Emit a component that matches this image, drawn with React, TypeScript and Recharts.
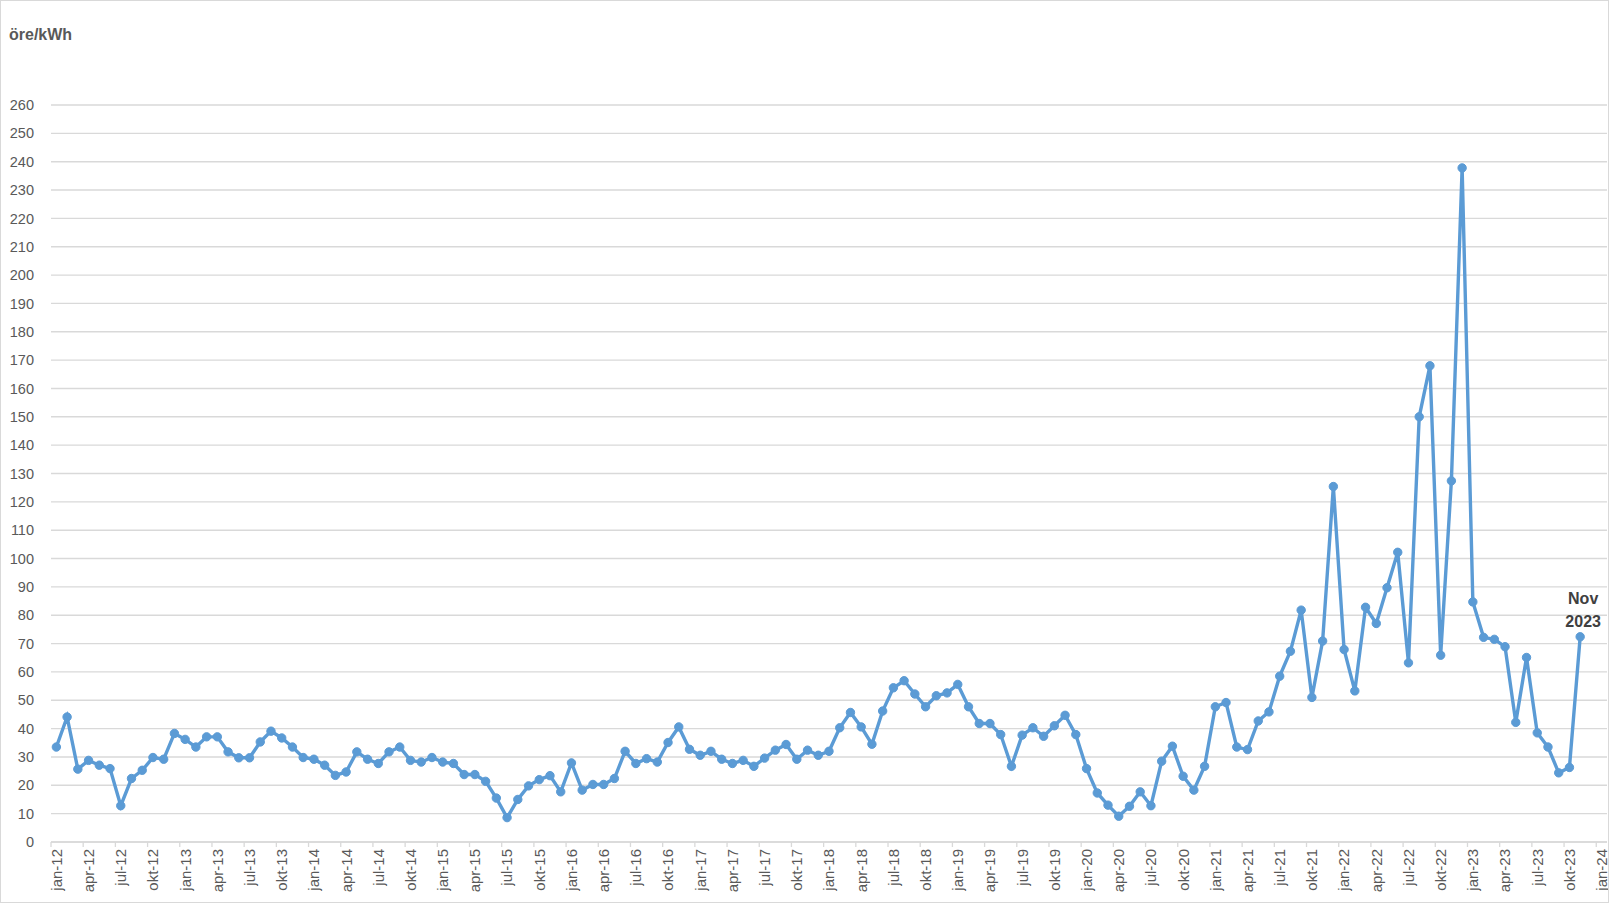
import React from 'react';
import { LineChart, Line, XAxis, YAxis, CartesianGrid } from 'recharts';

const MONTHS = ['jan', 'feb', 'mar', 'apr', 'maj', 'jun', 'jul', 'aug', 'sep', 'okt', 'nov', 'dec'];
const YEARS = [12, 13, 14, 15, 16, 17, 18, 19, 20, 21, 22, 23, 24];

// Monthly price, öre/kWh, jan-12 .. nov-23
const PRICES: number[] = [
  33.5, 44.1, 25.7, 28.8, 27.1, 25.9, 12.8, 22.4, 25.3, 29.8, 29.2, 38.3,
  36.2, 33.5, 37.1, 37.1, 31.8, 29.7, 29.7, 35.3, 39.1, 36.7, 33.5, 29.8,
  29.2, 27.1, 23.5, 24.7, 31.8, 29.2, 27.7, 31.8, 33.5, 28.8, 28.2, 29.8,
  28.2, 27.7, 23.8, 23.8, 21.4, 15.5, 8.6, 15.0, 19.8, 22.0, 23.4, 17.7,
  27.9, 18.3, 20.3, 20.3, 22.4, 32.0, 27.7, 29.4, 28.2, 35.1, 40.6, 32.7,
  30.6, 32.0, 29.2, 27.7, 28.8, 26.7, 29.6, 32.4, 34.4, 29.2, 32.4, 30.6,
  32.0, 40.3, 45.7, 40.6, 34.5, 46.2, 54.4, 56.9, 52.2, 47.7, 51.6, 52.6,
  55.6, 47.7, 41.8, 41.8, 37.9, 26.7, 37.7, 40.3, 37.3, 41.0, 44.7, 37.9,
  25.9, 17.3, 13.0, 9.1, 12.6, 17.7, 12.8, 28.5, 33.8, 23.2, 18.3, 26.7,
  47.7, 49.2, 33.5, 32.6, 42.7, 45.9, 58.5, 67.3, 81.8, 51.0, 70.9, 125.4,
  67.9, 53.3, 82.8, 77.1, 89.7, 102.2, 63.2, 150.0, 168.0, 65.9, 127.4, 237.8,
  84.7, 72.2, 71.5, 68.9, 42.2, 65.1, 38.5, 33.5, 24.4, 26.3, 72.4,
];

const Y_TICKS = [0, 10, 20, 30, 40, 50, 60, 70, 80, 90, 100, 110, 120, 130, 140, 150, 160, 170, 180, 190, 200, 210, 220, 230, 240, 250, 260];
const LAST_LABEL = ['Nov', '2023'];

// categories jan-12 .. jan-24 (axis runs one slot past the data)
const CATEGORIES: string[] = [];
YEARS.forEach((y) => {
  MONTHS.forEach((m) => {
    if (y < 24 || m === 'jan') CATEGORIES.push(`${m}-${y}`);
  });
});

const data = CATEGORIES.map((c, i) => ({ month: c, price: i < PRICES.length ? PRICES[i] : null }));

const FONT = '"Liberation Sans", Arial, sans-serif';
const BLUE = '#5B9BD5';
const GRID = '#D9D9D9';
const TEXT = '#595959';
const HALF_SLOT = 5.37;

const XTick = (props: any) => {
  const { x, y, payload } = props;
  return (
    <g transform={`translate(${x},${y})`}>
      <line x1={-HALF_SLOT} x2={-HALF_SLOT} y1={-7} y2={-2} stroke={GRID} strokeWidth={1.3} />
      <text
        transform="rotate(-90)"
        textAnchor="end"
        dy="0.36em"
        fill={TEXT}
        fontSize={15}
        fontFamily={FONT}
      >
        {payload.value}
      </text>
    </g>
  );
};

const LastLabel = (props: any) => {
  const { x, y, index } = props;
  if (index !== PRICES.length - 1) return null;
  return (
    <text x={x + 3} y={y} textAnchor="middle" fill="#404040" fontSize={16} fontWeight="bold" fontFamily={FONT}>
      <tspan x={x + 3} dy={-33}>{LAST_LABEL[0]}</tspan>
      <tspan x={x + 3} dy={23.5}>{LAST_LABEL[1]}</tspan>
    </text>
  );
};

export default function App() {
  return (
    <div style={{ position: 'absolute', left: 0, top: 0, width: 1609, height: 903, background: '#fff' }}>
      <LineChart
        width={1609}
        height={903}
        data={data}
        margin={{ top: 105, right: 2, left: 0, bottom: 0 }}
      >
        <CartesianGrid vertical={false} stroke={GRID} strokeWidth={1.4} />
        <XAxis
          dataKey="month"
          interval={2}
          height={61}
          padding={{ left: HALF_SLOT, right: HALF_SLOT }}
          axisLine={{ stroke: GRID, strokeWidth: 1.4 }}
          tickLine={false}
          tickSize={0}
          tickMargin={7}
          tick={<XTick />}
        />
        <YAxis
          domain={[0, 260]}
          ticks={Y_TICKS}
          width={51}
          axisLine={false}
          tickLine={false}
          tickSize={0}
          tickMargin={17}
          interval={0}
          tick={{ fill: TEXT, fontSize: 14.5, fontFamily: FONT }}
        />
        <Line
          type="linear"
          dataKey="price"
          stroke={BLUE}
          strokeWidth={3.4}
          dot={{ r: 4.2, fill: BLUE, stroke: BLUE, strokeWidth: 1 }}
          activeDot={false}
          isAnimationActive={false}
          label={<LastLabel />}
        />
      </LineChart>
      <div
        style={{
          position: 'absolute',
          left: 9,
          top: 25,
          fontFamily: FONT,
          fontWeight: 'bold',
          fontSize: 16,
          color: TEXT,
          lineHeight: '20px',
        }}
      >
        öre/kWh
      </div>
      <div
        style={{
          position: 'absolute',
          left: 0,
          top: 0,
          width: 1609,
          height: 903,
          boxSizing: 'border-box',
          border: `1px solid ${GRID}`,
          pointerEvents: 'none',
        }}
      />
    </div>
  );
}
